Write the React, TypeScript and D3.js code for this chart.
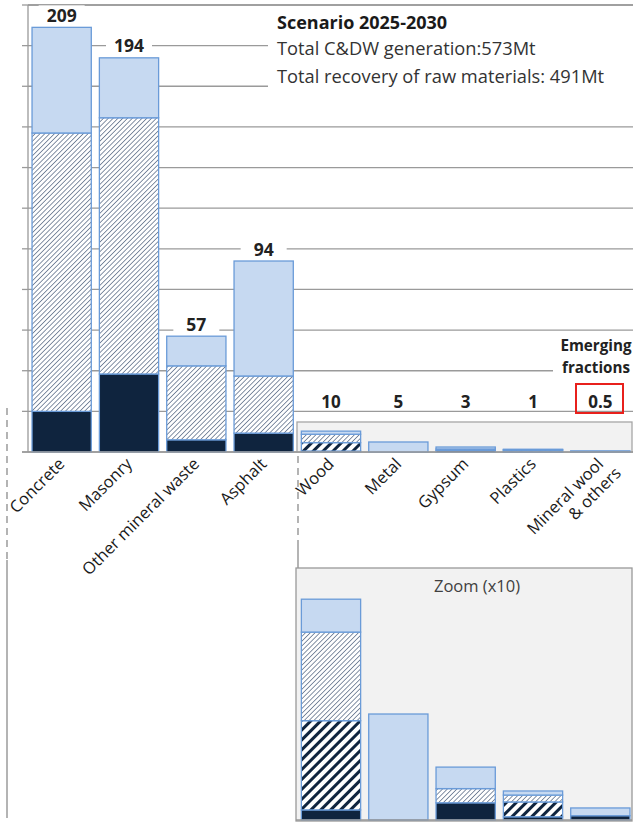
import * as React from "react"
import * as d3 from "d3"

// categories, left to right
const categories = [
  "Concrete",
  "Masonry",
  "Other mineral waste",
  "Asphalt",
  "Wood",
  "Metal",
  "Gypsum",
  "Plastics",
  "Mineral wool & others",
]

// stacked segments, bottom to top (Mt)
const baseSeg = [20, 38.4, 6, 9.3, 0.47, 0, 0.8, 0.15, 0.2]
const lowerMidSeg = [0, 0, 0, 0, 4.15, 0, 0, 0.69, 0]
const upperMidSeg = [137, 126.1, 36.4, 28.1, 4.12, 0, 0.66, 0.32, 0]
const topSeg = [52, 29.5, 14.6, 56.6, 1.53, 4.93, 1.0, 0.19, 0.36]

// labels printed above bars
const totalLabels = ["209", "194", "57", "94", "10", "5", "3", "1", "0.5"]

const yTicks = d3.range(0, 221, 20)
const emergingStart = 4

const W = 633
const H = 823
const FONT = "'Open Sans', 'Noto Sans', sans-serif"

type Row = { name: string; base: number; lowerMid: number; upperMid: number; top: number }
const keys = ["base", "lowerMid", "upperMid", "top"] as const

const rows: Row[] = categories.map((name, i) => ({
  name,
  base: baseSeg[i],
  lowerMid: lowerMidSeg[i],
  upperMid: upperMidSeg[i],
  top: topSeg[i],
}))

const fills: Record<string, string> = {
  base: "#0f243e",
  lowerMid: "url(#thickHatch)",
  upperMid: "url(#thinHatch)",
  top: "#c6d9f1",
}

export default function App() {
  const x = d3.scaleBand<string>().domain(categories).range([28, 634]).paddingInner(0.12).paddingOuter(0.06)
  const y = d3.scaleLinear().domain([0, 220]).range([452, 5])
  // zoom panel (x10)
  const yz = d3.scaleLinear().domain([0, 11]).range([820, 583.5])

  const stacked = d3.stack<Row>().keys(keys as unknown as string[])(rows)
  const totals = rows.map((r) => r.base + r.lowerMid + r.upperMid + r.top)

  const bw = x.bandwidth()

  const drawBars = (scale: d3.ScaleLinear<number, number>, subset: (i: number) => boolean, prefix: string) =>
    stacked.map((layer) => (
      <g key={prefix + layer.key}>
        {layer.map((d, i) => {
          if (!subset(i)) return null
          const v = d[1] - d[0]
          if (v <= 0) return null
          const y0 = scale(d[0])
          const y1 = scale(d[1])
          return (
            <rect
              key={i}
              x={x(categories[i])!}
              y={y1}
              width={bw}
              height={Math.max(0.5, y0 - y1)}
              fill={fills[layer.key]}
              stroke="#6a9bd8"
              strokeWidth={1.3}
            />
          )
        })}
      </g>
    ))

  return (
    <div style={{ position: "absolute", left: 0, top: 0 }}>
      <svg width={W} height={H} viewBox={`0 0 ${W} ${H}`} style={{ display: "block", background: "#fff" }}>
        <defs>
          <pattern id="thinHatch" patternUnits="userSpaceOnUse" width={3.4} height={3.4} patternTransform="rotate(45)">
            <rect width={3.4} height={3.4} fill="#fff" />
            <line x1={0} y1={0} x2={0} y2={3.4} stroke="#33496a" strokeWidth={1.2} />
          </pattern>
          <pattern id="thickHatch" patternUnits="userSpaceOnUse" width={7} height={7} patternTransform="rotate(45)">
            <rect width={7} height={7} fill="#fff" />
            <line x1={1.5} y1={0} x2={1.5} y2={7} stroke="#0f243e" strokeWidth={3} />
          </pattern>
        </defs>

        {/* gridlines + left ticks */}
        {yTicks.map((t) => (
          <g key={t}>
            <line x1={28} x2={W} y1={y(t)} y2={y(t)} stroke={t === 220 ? "#a0a0a0" : "#9a9a9a"} strokeWidth={t === 220 ? 2 : 1.3} />
            <line x1={22} x2={28} y1={y(t)} y2={y(t)} stroke="#9a9a9a" strokeWidth={1.3} />
          </g>
        ))}
        <line x1={28} x2={28} y1={y(220)} y2={y(0)} stroke="#9a9a9a" strokeWidth={1.3} />

        {/* scenario text box */}
        <rect x={268} y={7} width={W - 268} height={93} fill="#fff" />
        <text x={277} y={29} fontFamily={FONT} fontWeight="bold" fontSize={18} fill="#1a1a1a">
          Scenario 2025-2030
        </text>
        <text x={277} y={55} fontFamily={FONT} fontSize={18.3} fill="#333">
          Total C&amp;DW generation:573Mt
        </text>
        <text x={277} y={83} fontFamily={FONT} fontSize={18.3} fill="#333">
          Total recovery of raw materials: 491Mt
        </text>

        {/* emerging fractions background */}
        <rect x={297} y={422} width={W - 297 - 1} height={30} fill="#f2f2f2" stroke="#a6a6a6" strokeWidth={1.3} />

        {drawBars(y, () => true, "m")}

        {/* baseline */}
        <line x1={22} x2={W} y1={y(0)} y2={y(0)} stroke="#9a9a9a" strokeWidth={1.5} />

        {/* total labels, main fractions */}
        {categories.slice(0, emergingStart).map((c, i) => {
          const cx = x(c)! + bw / 2
          const ty = y(totals[i]) - 12
          return (
            <g key={c}>
              <rect x={cx - 23} y={ty - 10} width={46} height={20} fill="#fff" />
              <text x={cx} y={ty + 6.5} textAnchor="middle" fontFamily={FONT} fontWeight="bold" fontSize={17.5} fill="#222">
                {totalLabels[i]}
              </text>
            </g>
          )
        })}

        {/* emerging fractions labels */}
        <rect x={553} y={333} width={W - 553} height={44} fill="#fff" />
        <text x={596} y={351} textAnchor="middle" fontFamily={FONT} fontWeight="bold" fontSize={15.2} fill="#222">
          Emerging
        </text>
        <text x={596} y={373} textAnchor="middle" fontFamily={FONT} fontWeight="bold" fontSize={15.2} fill="#222">
          fractions
        </text>
        {categories.slice(emergingStart).map((c, j) => {
          const i = j + emergingStart
          const cx = x(c)! + bw / 2
          return (
            <text key={c} x={cx} y={408} textAnchor="middle" fontFamily={FONT} fontWeight="bold" fontSize={17} fill="#222">
              {totalLabels[i]}
            </text>
          )
        })}
        <rect x={576} y={384} width={47} height={29} fill="none" stroke="#e8201c" strokeWidth={2} />

        {/* category labels */}
        {categories.map((c) => {
          const cx = x(c)! + bw / 2 + 4
          const parts = c === "Mineral wool & others" ? ["Mineral wool", "& others"] : [c]
          return (
            <text
              key={c}
              transform={`translate(${cx},${465}) rotate(-45)`}
              textAnchor="end"
              fontFamily={FONT}
              fontSize={16.5}
              fill="#1a1a1a"
            >
              {parts.map((p, k) => (
                <tspan key={k} x={k === 0 ? 0 : 6} dy={k === 0 ? 0 : 19}>
                  {p}
                </tspan>
              ))}
            </text>
          )
        })}

        {/* separators */}
        <line x1={7} x2={7} y1={408} y2={560} stroke="#8c8c8c" strokeWidth={1.3} strokeDasharray="7,5" />
        <line x1={7} x2={7} y1={560} y2={818} stroke="#8c8c8c" strokeWidth={1.3} />
        <line x1={298} x2={298} y1={456} y2={540} stroke="#8c8c8c" strokeWidth={1.3} strokeDasharray="7,5" />
        <line x1={298} x2={298} y1={540} y2={568} stroke="#8c8c8c" strokeWidth={1.3} />

        {/* zoom panel */}
        <rect x={296} y={568} width={W - 296 - 1} height={253} fill="#f2f2f2" stroke="#999" strokeWidth={1.3} />
        <text x={477} y={592} textAnchor="middle" fontFamily={FONT} fontSize={16.5} fill="#404040">
          Zoom (x10)
        </text>
        {drawBars(yz, (i) => i >= emergingStart, "z")}
        <line x1={296} x2={W - 1} y1={820} y2={820} stroke="#999" strokeWidth={1.3} />
      </svg>
    </div>
  )
}
